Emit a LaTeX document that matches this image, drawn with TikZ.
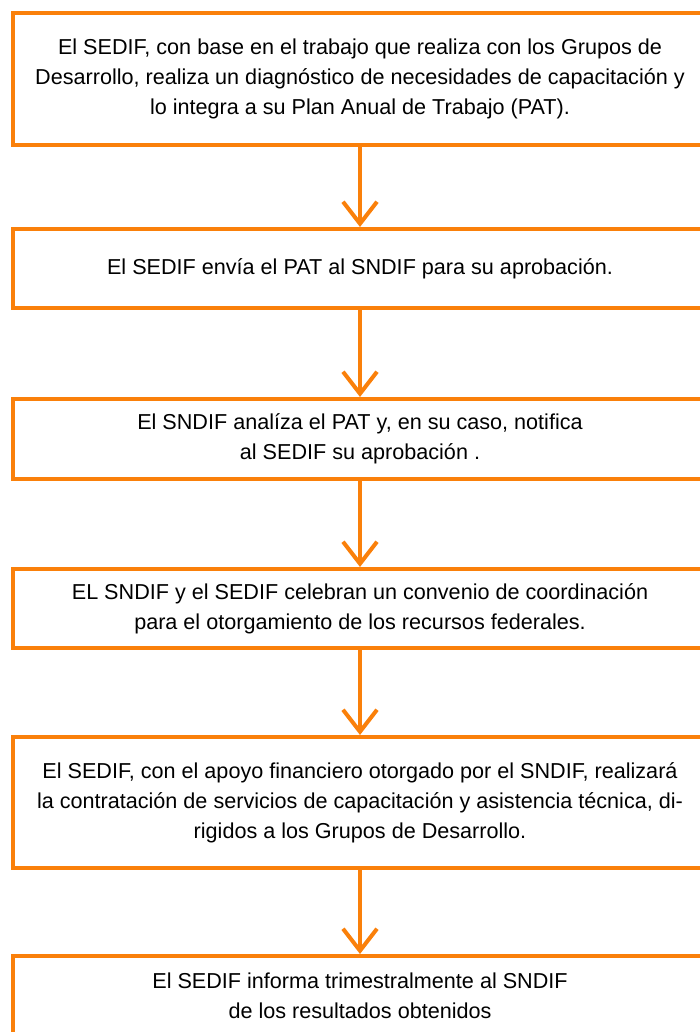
\documentclass[tikz,border=0pt]{standalone}
\usepackage{fontspec}
\setmainfont{Liberation Sans}
\usetikzlibrary{arrows.meta}
\definecolor{difnaranja}{RGB}{250,128,10}

\begin{document}
\begin{tikzpicture}[x=1pt,y=-1pt,
  paso/.style={draw=difnaranja, line width=4pt, fill=white,
    minimum width=694pt, inner sep=0pt, align=center,
    font=\fontsize{21.6}{30}\selectfont},
  flecha/.style={difnaranja, line width=4pt,
    -{Straight Barb[length=22pt,width=34pt]}}]
  \useasboundingbox (0,0) rectangle (700,1032);

  \node[paso, minimum height=132pt] (diagnostico) at (360,79)
    {El SEDIF, con base en el trabajo que realiza con los Grupos de\\
     Desarrollo, realiza un diagnóstico de necesidades de capacitación y\\
     lo integra a su Plan Anual de Trabajo (PAT).};
  \node[paso, minimum height=79pt] (envio) at (360,268.5)
    {El SEDIF envía el PAT al SNDIF para su aprobación.};
  \node[paso, minimum height=80pt] (analisis) at (360,439)
    {El SNDIF analíza el PAT y, en su caso, notifica\\
     al SEDIF su aprobación .};
  \node[paso, minimum height=79pt] (convenio) at (360,608.5)
    {EL SNDIF y el SEDIF celebran un convenio de coordinación\\
     para el otorgamiento de los recursos federales.};
  \node[paso, minimum height=131pt] (contratacion) at (360,802.5)
    {El SEDIF, con el apoyo financiero otorgado por el SNDIF, realizará\\
     la contratación de servicios de capacitación y asistencia técnica, di-\\
     rigidos a los Grupos de Desarrollo.};
  \node[paso, minimum height=80pt] (informe) at (360,996)
    {El SEDIF informa trimestralmente al SNDIF\\
     de los resultados obtenidos};

  \draw[flecha] (diagnostico) -- (envio);
  \draw[flecha] (envio) -- (analisis);
  \draw[flecha] (analisis) -- (convenio);
  \draw[flecha] (convenio) -- (contratacion);
  \draw[flecha] (contratacion) -- (informe);
\end{tikzpicture}
\end{document}
